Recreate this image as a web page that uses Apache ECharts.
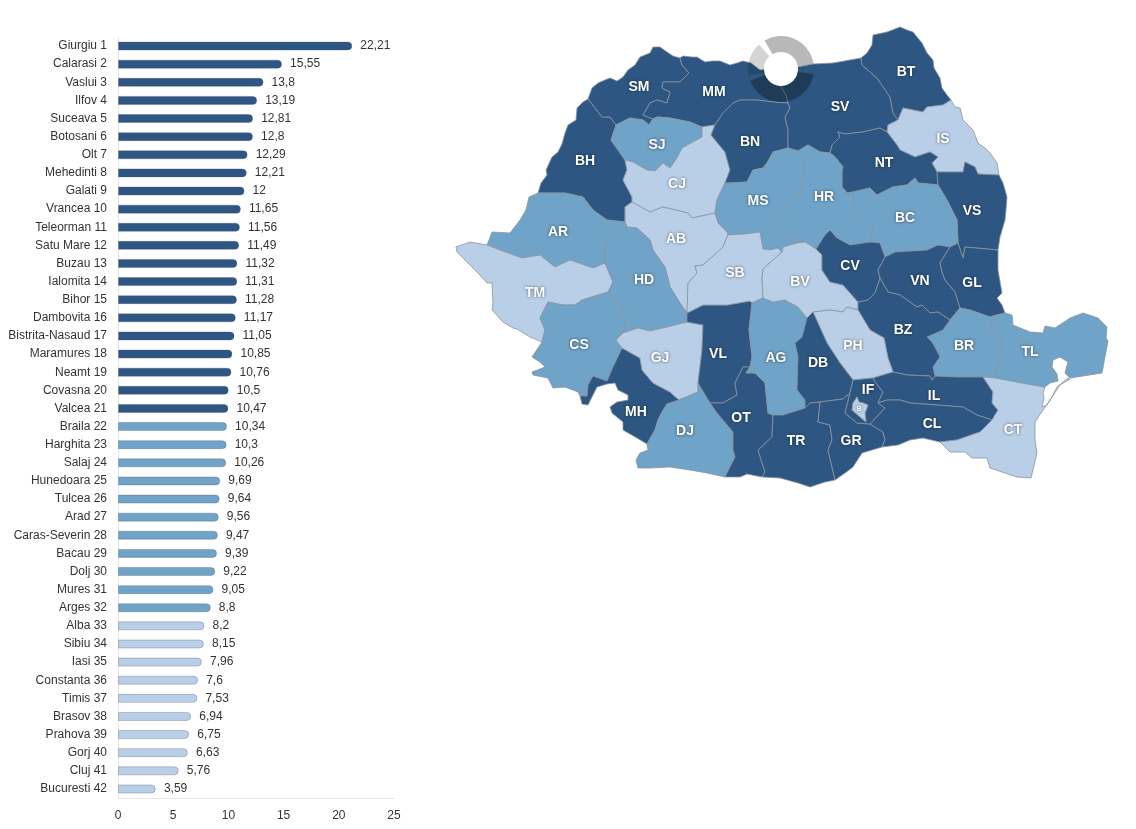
<!DOCTYPE html>
<html>
<head>
<meta charset="utf-8">
<style>html,body{margin:0;padding:0;background:#fff}#chart{width:1136px;height:829px}</style>
<script src="https://cdn.jsdelivr.net/npm/echarts@6/dist/echarts.min.js"></script>
</head>
<body>
<div id="chart"></div>
<script>
// County ranking, in bar order
const countyNames = ['Giurgiu','Calarasi','Vaslui','Ilfov','Suceava','Botosani','Olt','Mehedinti','Galati','Vrancea','Teleorman','Satu Mare','Buzau','Ialomita','Bihor','Dambovita','Bistrita-Nasaud','Maramures','Neamt','Covasna','Valcea','Braila','Harghita','Salaj','Hunedoara','Tulcea','Arad','Caras-Severin','Bacau','Dolj','Mures','Arges','Alba','Sibiu','Iasi','Constanta','Timis','Brasov','Prahova','Gorj','Cluj','Bucuresti'];
const countyCodes = ['GR','CL','VS','IF','SV','BT','OT','MH','GL','VN','TR','SM','BZ','IL','BH','DB','BN','MM','NT','CV','VL','BR','HR','SJ','HD','TL','AR','CS','BC','DJ','MS','AG','AB','SB','IS','CT','TM','BV','PH','GJ','CJ','B'];
const countyValues = [22.21,15.55,13.8,13.19,12.81,12.8,12.29,12.21,12,11.65,11.56,11.49,11.32,11.31,11.28,11.17,11.05,10.85,10.76,10.5,10.47,10.34,10.3,10.26,9.69,9.64,9.56,9.47,9.39,9.22,9.05,8.8,8.2,8.15,7.96,7.6,7.53,6.94,6.75,6.63,5.76,3.59];
const axisTicks = [0,5,10,15,20,25];

// Three value classes shared by the bars and the map
const classColors = ['#b9cfe7','#6fa3c7','#2d5782'];
const classLimits = [8.5,10.4];
function classColor(v){ return v > classLimits[1] ? classColors[2] : v > classLimits[0] ? classColors[1] : classColors[0]; }

// County boundaries as shared arcs, in page coordinates
const arcs = {
  out_BH:[[538,193],[541,183],[547,175],[546,170],[552,157],[558,152],[562,144],[565,133],[568,125],[576,120],[577,108],[583,102],[588,99]],
  out_SM:[[588,99],[592,88],[598,83],[605,80],[610,78],[617,81],[623,77],[628,70],[635,65],[640,57],[650,53],[653,47],[660,47],[667,52],[673,56],[680,58]],
  out_MM:[[680,58],[683,56],[692,57],[697,57],[705,62],[712,61],[720,61],[725,63],[730,65],[737,63],[743,61],[751,63],[760,70],[780,68]],
  out_SV:[[780,68],[797,67],[813,64],[833,63],[850,60],[861,58]],
  out_BT:[[861,58],[867,53],[872,45],[873,35],[887,32],[900,27],[907,30],[913,32],[917,37],[922,43],[927,53],[933,60],[934,68],[940,78],[942,88],[947,95],[951,100]],
  out_IS:[[951,100],[955,107],[960,108],[963,120],[970,127],[973,130],[975,135],[978,143],[985,148],[990,153],[997,163],[999,175]],
  out_VS:[[999,175],[1003,183],[1007,197],[1006,210],[1005,220],[1000,237],[998,250]],
  out_GL:[[998,250],[998,270],[1002,293],[997,298],[1002,305],[1005,313]],
  out_TL:[[1005,313],[1012,315],[1013,325],[1030,332],[1043,333],[1045,326],[1055,328],[1070,318],[1083,313],[1098,318],[1107,327],[1106,338],[1108,341],[1102,373],[1083,376],[1070,378],[1065,373],[1068,362],[1060,357],[1053,360],[1052,367],[1057,374],[1058,381],[1050,383],[1045,387]],
  out_CT:[[1045,387],[1043,393],[1044,398],[1042,407],[1047,405],[1052,397],[1057,387],[1068,378],[1070,379],[1060,385],[1050,400],[1043,410],[1035,422],[1035,440],[1037,453],[1031,478],[1017,477],[990,468],[987,458],[972,458],[965,452],[950,452],[940,442]],
  out_CL:[[940,442],[923,438],[910,440],[898,445],[882,447]],
  out_GR:[[882,447],[862,453],[853,467],[845,473],[835,480]],
  out_TR:[[835,480],[825,482],[810,487],[798,483],[780,478],[762,477]],
  out_OT:[[762,477],[747,474],[740,477],[725,477]],
  out_DJ:[[725,477],[707,473],[690,470],[670,467],[650,468],[638,468],[636,460],[640,453],[648,450],[647,444]],
  out_MH:[[647,444],[637,438],[623,430],[623,422],[612,413],[610,407],[617,402],[628,400],[628,395],[618,390],[615,383],[607,384],[597,387],[588,405],[582,404],[580,396]],
  out_CS:[[580,396],[578,392],[565,387],[553,388],[548,378],[533,375],[532,372],[545,367],[540,362],[532,357],[542,342]],
  out_TM:[[542,342],[530,337],[517,329],[513,328],[503,322],[492,310],[493,303],[492,283],[487,283],[478,273],[470,265],[457,252],[456,247],[470,242],[487,245]],
  out_AR:[[487,245],[489,240],[492,232],[510,233],[520,220],[526,210],[529,197],[538,193]],
  BH_SM:[[588,99],[602,117],[610,117],[616,125]],
  BH_SJ:[[616,125],[611,140],[625,160]],
  BH_CJ:[[625,160],[627,170],[623,180],[632,197],[632,202]],
  BH_AB:[[632,202],[625,207],[625,222]],
  BH_AR:[[625,222],[607,220],[593,210],[583,197],[565,193],[538,193]],
  AR_AB:[[625,222],[627,227]],
  AR_HD:[[627,227],[607,238],[605,250],[605,263]],
  AR_TM:[[605,263],[593,268],[570,260],[555,267],[540,255],[522,258],[500,250],[487,245]],
  HD_TM:[[605,263],[613,282],[608,292]],
  CS_TM:[[608,292],[582,300],[575,305],[563,305],[548,302],[540,318],[545,330],[542,342]],
  CS_HD:[[608,292],[623,308],[625,323],[623,333]],
  CS_GJ:[[623,333],[616,340],[622,348]],
  CS_MH:[[622,348],[613,367],[607,381],[593,376],[588,385],[587,396],[580,396]],
  GJ_MH:[[622,348],[640,358],[642,370],[653,383],[670,392],[679,400]],
  DJ_MH:[[679,400],[667,404],[662,412],[658,420],[655,430],[647,444]],
  DJ_GJ:[[679,400],[698,392],[698,383]],
  DJ_VL:[[698,383],[710,403]],
  DJ_OT:[[710,403],[717,413],[733,432],[733,450],[735,457],[725,477]],
  GJ_VL:[[698,383],[702,350],[703,325],[687,322]],
  GJ_HD:[[687,322],[663,328],[650,331],[638,328],[623,333]],
  HD_VL:[[687,322],[687,313]],
  AB_HD:[[627,227],[637,228],[650,240],[653,250],[665,267],[670,287],[680,303],[687,313]],
  AB_SB:[[687,313],[688,283],[697,273],[695,266],[703,265],[712,257],[723,247],[728,235]],
  SB_VL:[[687,313],[703,305],[727,305],[750,301],[752,303]],
  AB_CJ:[[632,202],[650,212],[663,207],[688,213],[692,218],[715,213]],
  AB_MS:[[715,213],[718,223],[727,232],[728,235]],
  CJ_MS:[[715,213],[717,200],[725,183]],
  BN_CJ:[[725,183],[730,170],[725,152],[711,135],[715,125]],
  CJ_MM:[[715,125],[702,127]],
  CJ_SJ:[[702,127],[702,137],[682,148],[677,158],[670,168],[663,163],[655,171],[647,170],[633,162],[625,160]],
  MM_SJ:[[702,127],[690,122],[670,118],[657,117],[653,119]],
  SJ_SM:[[653,119],[649,125],[643,120],[630,118],[616,125]],
  MM_SM:[[653,119],[643,115],[650,103],[657,100],[667,103],[670,92],[662,88],[663,82],[680,82],[689,73],[682,65],[680,58]],
  BN_MM:[[715,125],[723,113],[733,103],[740,100],[757,100],[773,102],[788,103]],
  MM_SV:[[788,103],[786,95],[780,85],[780,68]],
  BN_SV:[[788,103],[790,108],[785,117],[788,130],[788,148]],
  BN_MS:[[788,148],[773,152],[767,163],[763,168],[753,170],[747,182],[730,183],[725,183]],
  MS_SV:[[788,148],[798,151]],
  HR_SV:[[798,151],[808,145],[820,152],[830,153]],
  NT_SV:[[830,153],[832,145],[840,137],[838,132],[845,134],[863,132],[880,128],[887,132]],
  IS_SV:[[887,132],[888,125],[898,120]],
  BT_SV:[[898,120],[893,113],[890,97],[877,78],[862,65],[861,58]],
  BT_IS:[[898,120],[903,108],[923,112],[927,107],[943,105],[951,100]],
  IS_NT:[[887,132],[897,145],[900,150],[915,157],[930,152],[938,157],[932,163],[937,172]],
  IS_VS:[[937,172],[963,172],[965,162],[975,167],[978,174],[999,175]],
  NT_VS:[[937,172],[938,185]],
  BC_NT:[[938,185],[918,183],[915,178],[907,185],[893,187],[877,195],[870,188],[853,192]],
  HR_NT:[[853,192],[847,193],[842,187],[842,170],[843,167],[835,157],[830,153]],
  BC_HR:[[853,192],[855,210],[860,220],[867,227],[873,226],[870,242]],
  BC_VS:[[938,185],[947,200],[957,220],[958,243]],
  BC_GL:[[958,243],[950,247]],
  BC_VN:[[950,247],[938,245],[927,250],[895,252],[885,257]],
  BC_CV:[[870,242],[880,243],[885,257]],
  CV_HR:[[870,242],[850,245],[837,238],[830,230],[825,235],[816,249]],
  HR_MS:[[798,151],[803,163],[802,187],[797,197],[787,207],[783,215],[775,224],[782,234],[797,243]],
  BV_HR:[[797,243],[805,242],[813,247],[816,249]],
  BV_MS:[[797,243],[783,247],[782,252]],
  MS_SB:[[728,235],[745,234],[760,232],[763,249],[770,250],[778,248],[782,252]],
  BV_SB:[[782,252],[773,260],[763,269],[762,278],[763,298]],
  AG_BV:[[763,298],[773,302],[785,300],[798,307],[807,318]],
  AG_SB:[[763,298],[752,303]],
  AG_VL:[[752,303],[749,330],[752,357],[750,367]],
  OT_VL:[[750,367],[743,367],[735,383],[737,395],[723,403],[710,403]],
  AG_OT:[[750,367],[746,373],[755,373],[765,383],[768,413],[773,415]],
  OT_TR:[[773,415],[772,437],[758,450],[765,472],[762,477]],
  AG_TR:[[773,415],[783,415],[805,408]],
  AG_DB:[[805,408],[805,400],[797,390],[798,357],[795,343],[802,337],[807,318]],
  BV_DB:[[807,318],[813,312]],
  BV_PH:[[813,312],[830,310],[843,312],[847,307],[858,310]],
  BV_BZ:[[858,310],[858,302]],
  BV_CV:[[858,302],[843,285],[830,282],[822,270],[822,255],[816,249]],
  BZ_CV:[[858,302],[868,300],[875,293],[880,278]],
  CV_VN:[[880,278],[878,270],[885,257]],
  BZ_VN:[[880,278],[888,292],[900,295],[917,307],[922,305],[930,313],[938,312],[950,320]],
  BR_VN:[[950,320],[960,308]],
  GL_VN:[[960,308],[955,292],[945,280],[942,272],[940,263],[950,247]],
  GL_VS:[[958,243],[963,258],[965,247],[998,250]],
  BR_GL:[[960,308],[970,310],[990,317],[993,316]],
  GL_TL:[[993,316],[1005,313]],
  BR_TL:[[993,316],[991,328],[998,333],[1003,345],[998,363],[996,378]],
  CT_TL:[[996,378],[1017,382],[1045,387]],
  BR_CT:[[996,378],[983,377]],
  BR_IL:[[983,377],[957,377],[935,376]],
  BR_BZ:[[935,376],[933,367],[940,357],[935,347],[932,342],[927,337],[943,330],[950,320]],
  BZ_IL:[[935,376],[932,380],[930,376],[907,375],[893,372]],
  BZ_PH:[[893,372],[888,358],[884,338],[870,330],[858,310]],
  IL_PH:[[893,372],[873,378]],
  IF_PH:[[873,378],[853,380]],
  DB_PH:[[853,380],[840,363],[827,343],[813,312]],
  DB_IF:[[853,380],[850,393]],
  DB_GR:[[850,393],[843,399],[820,402]],
  DB_TR:[[820,402],[810,403],[805,408]],
  GR_TR:[[820,402],[818,422],[830,425],[832,440],[828,450],[835,480]],
  GR_IF:[[850,393],[845,413],[857,423],[870,424]],
  CL_GR:[[870,424],[883,432],[885,440],[882,447]],
  CL_IF:[[870,424],[885,408],[878,403]],
  IF_IL:[[878,403],[883,392],[875,382],[873,378]],
  CL_IL:[[878,403],[887,400],[900,400],[910,403],[937,405],[963,407],[977,415],[992,420]],
  CL_CT:[[992,420],[980,432],[957,440],[940,442]],
  CT_IL:[[992,420],[998,410],[992,403],[993,392],[983,377]]
};
const capitalRing = [[853,403],[857,397],[859,402],[863,403],[868,405],[865,413],[866,422],[860,417],[852,410],[853,403]];

const countyRings = {
  BH:['out_BH','BH_SM','BH_SJ','BH_CJ','BH_AB','BH_AR'],
  SM:['out_SM','MM_SM','SJ_SM','BH_SM'],
  MM:['out_MM','MM_SV','BN_MM','CJ_MM','MM_SJ','MM_SM'],
  SJ:['BH_SJ','SJ_SM','MM_SJ','CJ_SJ'],
  CJ:['BH_CJ','CJ_SJ','CJ_MM','BN_CJ','CJ_MS','AB_CJ'],
  BN:['BN_MM','BN_SV','BN_MS','BN_CJ'],
  SV:['out_SV','BT_SV','IS_SV','NT_SV','HR_SV','MS_SV','BN_SV','MM_SV'],
  BT:['out_BT','BT_IS','BT_SV'],
  IS:['out_IS','IS_VS','IS_NT','IS_SV','BT_IS'],
  NT:['IS_NT','NT_VS','BC_NT','HR_NT','NT_SV'],
  VS:['out_VS','GL_VS','BC_VS','NT_VS','IS_VS'],
  BC:['BC_NT','BC_VS','BC_GL','BC_VN','BC_CV','BC_HR'],
  HR:['HR_SV','HR_NT','BC_HR','CV_HR','BV_HR','HR_MS'],
  MS:['AB_MS','CJ_MS','BN_MS','MS_SV','HR_MS','BV_MS','MS_SB'],
  AB:['AR_AB','AB_HD','AB_SB','AB_MS','AB_CJ','BH_AB'],
  AR:['out_AR','BH_AR','AR_AB','AR_HD','AR_TM'],
  TM:['out_TM','AR_TM','HD_TM','CS_TM'],
  HD:['AR_HD','AB_HD','HD_VL','GJ_HD','CS_HD','HD_TM'],
  CS:['CS_TM','CS_HD','CS_GJ','CS_MH','out_CS'],
  MH:['CS_MH','GJ_MH','DJ_MH','out_MH'],
  GJ:['CS_GJ','GJ_HD','GJ_VL','DJ_GJ','GJ_MH'],
  DJ:['DJ_MH','DJ_GJ','DJ_VL','DJ_OT','out_DJ'],
  VL:['HD_VL','SB_VL','AG_VL','OT_VL','DJ_VL','GJ_VL'],
  SB:['AB_SB','MS_SB','BV_SB','AG_SB','SB_VL'],
  OT:['OT_VL','AG_OT','OT_TR','out_OT','DJ_OT'],
  AG:['AG_SB','AG_BV','AG_DB','AG_TR','AG_OT','AG_VL'],
  BV:['BV_SB','BV_MS','BV_HR','BV_CV','BV_BZ','BV_PH','BV_DB','AG_BV'],
  CV:['CV_HR','BC_CV','CV_VN','BZ_CV','BV_CV'],
  VN:['BC_VN','GL_VN','BR_VN','BZ_VN','CV_VN'],
  GL:['BC_GL','GL_VS','out_GL','GL_TL','BR_GL','GL_VN'],
  BR:['BR_VN','BR_GL','BR_TL','BR_CT','BR_IL','BR_BZ'],
  BZ:['BZ_CV','BZ_VN','BR_BZ','BZ_IL','BZ_PH','BV_BZ'],
  PH:['BV_PH','BZ_PH','IL_PH','IF_PH','DB_PH'],
  DB:['BV_DB','DB_PH','DB_IF','DB_GR','DB_TR','AG_DB'],
  TR:['AG_TR','DB_TR','GR_TR','out_TR','OT_TR'],
  GR:['GR_IF','CL_GR','out_GR','GR_TR','DB_GR'],
  IF:['IF_PH','IF_IL','CL_IF','GR_IF','DB_IF'],
  IL:['BZ_IL','BR_IL','CT_IL','CL_IL','IF_IL','IL_PH'],
  CL:['CL_IF','CL_IL','CL_CT','out_CL','CL_GR'],
  CT:['CT_IL','BR_CT','CT_TL','out_CT','CL_CT'],
  TL:['GL_TL','out_TL','CT_TL','BR_TL']
};
// Where each county code is printed on the map
const labelAnchors = {SM:[639,87],MM:[714,92],BT:[906,72],SV:[840,107],BN:[750,142],BH:[585,161],SJ:[657,145],IS:[943,139],NT:[884,163],CJ:[677,184],MS:[758,201],HR:[824,197],BC:[905,218],VS:[972,211],AR:[558,232],AB:[676,239],SB:[735,273],HD:[644,280],TM:[535,293],CV:[850,266],VN:[920,281],GL:[972,283],BV:[800,282],CS:[579,345],GJ:[660,358],VL:[718,354],AG:[776,358],DB:[818,363],PH:[853,346],BZ:[903,330],BR:[964,346],TL:[1030,352],MH:[636,412],DJ:[685,431],OT:[741,418],TR:[796,441],GR:[851,441],IF:[868,390],IL:[934,396],CL:[932,424],CT:[1013,430],B:[859,409]};

// Loading ring drawn above the map: arc, gap, arc, gap, arc, gap (degrees)
const ringSweeps = [111,18,150,9,60,12];
const ringFills = ['rgba(0,0,0,0.28)','transparent','rgba(0,0,0,0.32)','transparent','rgba(0,0,0,0.17)','transparent'];

// Chain shared arcs into one closed ring, flipping arcs where needed
function sameNode(a,b){ return a[0]===b[0] && a[1]===b[1]; }
function buildRing(names){
  const list = names.map(n => arcs[n]);
  const first = list[0], next = list[1];
  const endTouches = sameNode(first[first.length-1],next[0]) || sameNode(first[first.length-1],next[next.length-1]);
  const pts = (endTouches ? first : first.slice().reverse()).slice();
  for(let i=1;i<list.length;i++){
    const a = list[i], last = pts[pts.length-1];
    if(sameNode(last,a[0])) pts.push(...a.slice(1));
    else if(sameNode(last,a[a.length-1])) pts.push(...a.slice().reverse().slice(1));
    else throw new Error('open ring at '+names[i]);
  }
  return pts;
}
const features = Object.keys(countyRings).map(code => {
  const rings = [buildRing(countyRings[code])];
  if(code==='IF') rings.push(capitalRing);
  return {type:'Feature',properties:{name:code,cp:labelAnchors[code]},geometry:{type:'Polygon',coordinates:rings}};
});
features.push({type:'Feature',properties:{name:'B',cp:labelAnchors.B},geometry:{type:'Polygon',coordinates:[capitalRing]}});
echarts.registerMap('counties',{type:'FeatureCollection',features});

const labelFont = '"Liberation Sans", Arial, sans-serif';
const chart = echarts.init(document.getElementById('chart'),null,{renderer:'canvas'});
chart.setOption({
  animation:false,
  backgroundColor:'#fff',
  grid:{left:118,top:37,width:276,height:761,containLabel:false},
  xAxis:[
    {type:'value',min:axisTicks[0],max:axisTicks[axisTicks.length-1],interval:5,position:'bottom',
     axisLine:{show:true,lineStyle:{color:'#e6e6e6'}},axisTick:{show:false},splitLine:{show:false},
     axisLabel:{color:'#333',fontSize:12,fontFamily:labelFont,margin:12}},
    // The bars run on a slightly longer scale than the printed ticks
    {type:'value',min:0,max:26.16,show:false,splitLine:{show:false}}
  ],
  yAxis:{type:'category',inverse:true,data:countyNames.map((n,i)=>n+' '+(i+1)),
    axisLine:{show:true,lineStyle:{color:'#e6e6e6'}},axisTick:{show:false},
    axisLabel:{color:'#333',fontSize:12,fontFamily:labelFont,margin:11,interval:0,padding:[2,0,0,0]}},
  series:[
    {type:'bar',xAxisIndex:1,yAxisIndex:0,barWidth:9,data:countyValues,silent:true,
     itemStyle:{color:p=>classColor(p.value),borderColor:'rgba(70,80,105,0.3)',borderWidth:1,borderRadius:[0,4.5,4.5,0]},
     label:{show:true,position:'right',distance:8,color:'#333',fontSize:12,fontFamily:labelFont,
       formatter:p=>String(p.value).replace('.',',')}},
    {type:'map',map:'counties',silent:true,selectedMode:false,roam:false,aspectScale:1,
     projection:{project:p=>p,unproject:p=>p},
     boundingCoords:[[0,0],[1136,829]],left:0,top:0,width:1136,height:829,
     data:countyCodes.map((c,i)=>({name:c,value:countyValues[i],itemStyle:{areaColor:classColor(countyValues[i])},
       label:c==='B'?{fontSize:7}:undefined})),
     itemStyle:{borderColor:'#8a939e',borderWidth:0.8},
     label:{show:true,color:'#fff',fontWeight:'bold',fontSize:14,fontFamily:labelFont,
       textShadowColor:'rgba(0,0,0,0.6)',textShadowBlur:3},
     emphasis:{disabled:true}},
    {type:'pie',silent:true,center:[781,69],radius:[0,17],label:{show:false},labelLine:{show:false},
     emphasis:{disabled:true},data:[{value:1,itemStyle:{color:'#fff'}}]},
    {type:'pie',silent:true,center:[781,69],radius:[17,33],startAngle:120,label:{show:false},labelLine:{show:false},
     emphasis:{disabled:true},
     data:ringSweeps.map((v,i)=>({value:v,itemStyle:{color:ringFills[i]}}))}
  ]
});
</script>
</body>
</html>
